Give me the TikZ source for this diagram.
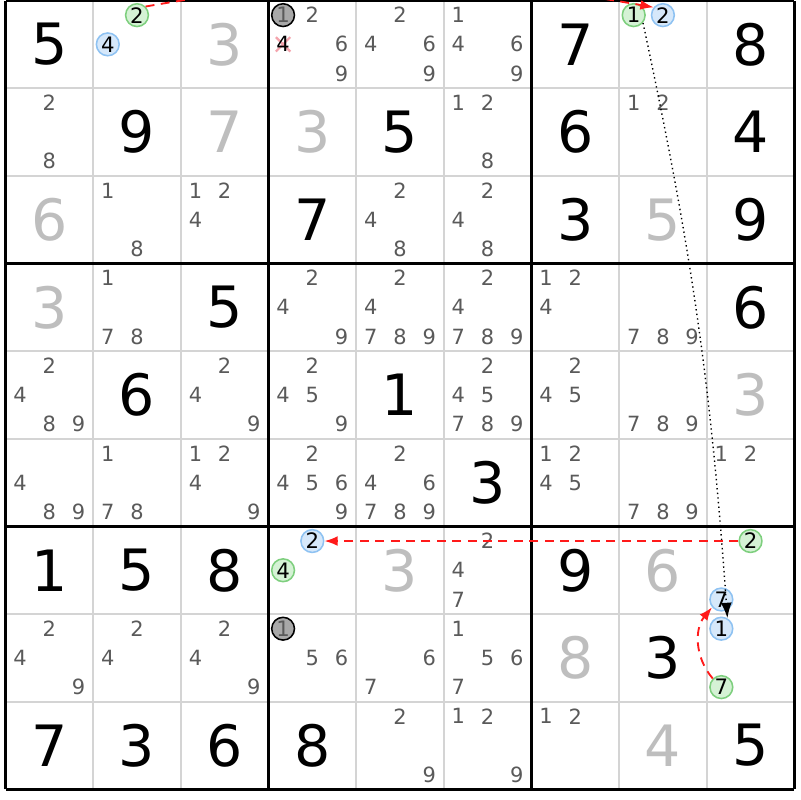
\documentclass[tikz,border=0pt]{standalone}
\usepackage{fontspec}
\setmainfont{DejaVu Sans}
\usetikzlibrary{arrows.meta,shapes.misc}
\definecolor{gridgray}{HTML}{D4D4D4}
\definecolor{candtext}{HTML}{5A5A5A}
\definecolor{solvedgray}{HTML}{BEBEBE}
\definecolor{greenfill}{HTML}{D5F2D5}
\definecolor{greenline}{HTML}{7ECF7E}
\definecolor{bluefill}{HTML}{D6E8FA}
\definecolor{blueline}{HTML}{8EC2F2}
\definecolor{grayfill}{HTML}{A8A8A8}
\definecolor{crosspink}{HTML}{F4A3AC}
\definecolor{chainred}{HTML}{FF1A1A}
\newcommand{\cand}[4][cand]{\node[#1] (r#2c#3n#4) at ({#3-1+(mod(#4-1,3)+0.5)/3},{10-#2-(int((#4-1)/3)+0.5)/3}) {#4};}

\begin{document}
\begin{tikzpicture}
\tikzstyle{given}=[inner sep=0pt,text=black,font=\fontsize{18.5}{18.5}\selectfont]
\tikzstyle{solved}=[inner sep=0pt,text=solvedgray,font=\fontsize{18.5}{18.5}\selectfont]
\tikzstyle{cand}=[inner sep=0pt,text=candtext,font=\fontsize{6.8}{6.8}\selectfont]
\tikzstyle{candout}=[cand,text=black]
\tikzstyle{candgreen}=[circle,draw=greenline,fill=greenfill,line width=0.5pt,minimum size=0.26cm,inner sep=0pt,text=black,font=\fontsize{6.9}{6.9}\selectfont]
\tikzstyle{candblue}=[candgreen,draw=blueline,fill=bluefill]
\tikzstyle{candgray}=[candgreen,draw=black,fill=grayfill,text=candtext]
\tikzstyle{crossmark}=[cross out,draw=crosspink,line width=0.7pt,minimum size=0.14cm,inner sep=0pt]
\tikzstyle{thingrid}=[gridgray,line width=0.5pt]
\tikzstyle{boxgrid}=[black,line width=1pt]
\tikzstyle{linkred}=[chainred,line width=0.6pt,dash pattern=on 2.9pt off 2.1pt,-{Latex[length=4.3pt,width=3.2pt]}]
\tikzstyle{linkdot}=[black,line width=0.45pt,dash pattern=on 0.45pt off 1.05pt,-{Latex[length=5pt,width=3.5pt]}]

\useasboundingbox (-0.063,-0.121) rectangle (9.064,9.006);
\fill[white] (-0.063,-0.121) rectangle (9.064,9.006);

%grid
\draw[thingrid] (0,0) grid (9,9);
\draw[boxgrid,step=3] (0,0) grid (9,9);

%given digits (black) and solved digits (gray)
\node[given] (r1c1) at (0.5,8.5) {5};
\node[solved] (r1c3) at (2.5,8.5) {3};
\node[given] (r1c7) at (6.5,8.5) {7};
\node[given] (r1c9) at (8.5,8.5) {8};
\node[given] (r2c2) at (1.5,7.5) {9};
\node[solved] (r2c3) at (2.5,7.5) {7};
\node[solved] (r2c4) at (3.5,7.5) {3};
\node[given] (r2c5) at (4.5,7.5) {5};
\node[given] (r2c7) at (6.5,7.5) {6};
\node[given] (r2c9) at (8.5,7.5) {4};
\node[solved] (r3c1) at (0.5,6.5) {6};
\node[given] (r3c4) at (3.5,6.5) {7};
\node[given] (r3c7) at (6.5,6.5) {3};
\node[solved] (r3c8) at (7.5,6.5) {5};
\node[given] (r3c9) at (8.5,6.5) {9};
\node[solved] (r4c1) at (0.5,5.5) {3};
\node[given] (r4c3) at (2.5,5.5) {5};
\node[given] (r4c9) at (8.5,5.5) {6};
\node[given] (r5c2) at (1.5,4.5) {6};
\node[given] (r5c5) at (4.5,4.5) {1};
\node[solved] (r5c9) at (8.5,4.5) {3};
\node[given] (r6c6) at (5.5,3.5) {3};
\node[given] (r7c1) at (0.5,2.5) {1};
\node[given] (r7c2) at (1.5,2.5) {5};
\node[given] (r7c3) at (2.5,2.5) {8};
\node[solved] (r7c5) at (4.5,2.5) {3};
\node[given] (r7c7) at (6.5,2.5) {9};
\node[solved] (r7c8) at (7.5,2.5) {6};
\node[solved] (r8c7) at (6.5,1.5) {8};
\node[given] (r8c8) at (7.5,1.5) {3};
\node[given] (r9c1) at (0.5,0.5) {7};
\node[given] (r9c2) at (1.5,0.5) {3};
\node[given] (r9c3) at (2.5,0.5) {6};
\node[given] (r9c4) at (3.5,0.5) {8};
\node[solved] (r9c8) at (7.5,0.5) {4};
\node[given] (r9c9) at (8.5,0.5) {5};

%candidates row 1
\cand[candgreen]{1}{2}{2} \cand[candblue]{1}{2}{4}
\cand[candgray]{1}{4}{1} \cand{1}{4}{2} \cand{1}{4}{6} \cand{1}{4}{9}
\node[crossmark] (r1c4x) at (3.167,8.5) {};
\cand[candout]{1}{4}{4}
\cand{1}{5}{2} \cand{1}{5}{4} \cand{1}{5}{6} \cand{1}{5}{9}
\cand{1}{6}{1} \cand{1}{6}{4} \cand{1}{6}{6} \cand{1}{6}{9}
\cand[candgreen]{1}{8}{1} \cand[candblue]{1}{8}{2}
%candidates row 2
\cand{2}{1}{2} \cand{2}{1}{8}
\cand{2}{6}{1} \cand{2}{6}{2} \cand{2}{6}{8}
\cand{2}{8}{1} \cand{2}{8}{2}
%candidates row 3
\cand{3}{2}{1} \cand{3}{2}{8}
\cand{3}{3}{1} \cand{3}{3}{2} \cand{3}{3}{4}
\cand{3}{5}{2} \cand{3}{5}{4} \cand{3}{5}{8}
\cand{3}{6}{2} \cand{3}{6}{4} \cand{3}{6}{8}
%candidates row 4
\cand{4}{2}{1} \cand{4}{2}{7} \cand{4}{2}{8}
\cand{4}{4}{2} \cand{4}{4}{4} \cand{4}{4}{9}
\cand{4}{5}{2} \cand{4}{5}{4} \cand{4}{5}{7} \cand{4}{5}{8} \cand{4}{5}{9}
\cand{4}{6}{2} \cand{4}{6}{4} \cand{4}{6}{7} \cand{4}{6}{8} \cand{4}{6}{9}
\cand{4}{7}{1} \cand{4}{7}{2} \cand{4}{7}{4}
\cand{4}{8}{7} \cand{4}{8}{8} \cand{4}{8}{9}
%candidates row 5
\cand{5}{1}{2} \cand{5}{1}{4} \cand{5}{1}{8} \cand{5}{1}{9}
\cand{5}{3}{2} \cand{5}{3}{4} \cand{5}{3}{9}
\cand{5}{4}{2} \cand{5}{4}{4} \cand{5}{4}{5} \cand{5}{4}{9}
\cand{5}{6}{2} \cand{5}{6}{4} \cand{5}{6}{5} \cand{5}{6}{7} \cand{5}{6}{8} \cand{5}{6}{9}
\cand{5}{7}{2} \cand{5}{7}{4} \cand{5}{7}{5}
\cand{5}{8}{7} \cand{5}{8}{8} \cand{5}{8}{9}
%candidates row 6
\cand{6}{1}{4} \cand{6}{1}{8} \cand{6}{1}{9}
\cand{6}{2}{1} \cand{6}{2}{7} \cand{6}{2}{8}
\cand{6}{3}{1} \cand{6}{3}{2} \cand{6}{3}{4} \cand{6}{3}{9}
\cand{6}{4}{2} \cand{6}{4}{4} \cand{6}{4}{5} \cand{6}{4}{6} \cand{6}{4}{9}
\cand{6}{5}{2} \cand{6}{5}{4} \cand{6}{5}{6} \cand{6}{5}{7} \cand{6}{5}{8} \cand{6}{5}{9}
\cand{6}{7}{1} \cand{6}{7}{2} \cand{6}{7}{4} \cand{6}{7}{5}
\cand{6}{8}{7} \cand{6}{8}{8} \cand{6}{8}{9}
\cand{6}{9}{1} \cand{6}{9}{2}
%candidates row 7
\cand[candblue]{7}{4}{2} \cand[candgreen]{7}{4}{4}
\cand{7}{6}{2} \cand{7}{6}{4} \cand{7}{6}{7}
\cand[candgreen]{7}{9}{2} \cand[candblue]{7}{9}{7}
%candidates row 8
\cand{8}{1}{2} \cand{8}{1}{4} \cand{8}{1}{9}
\cand{8}{2}{2} \cand{8}{2}{4}
\cand{8}{3}{2} \cand{8}{3}{4} \cand{8}{3}{9}
\cand[candgray]{8}{4}{1} \cand{8}{4}{5} \cand{8}{4}{6}
\cand{8}{5}{6} \cand{8}{5}{7}
\cand{8}{6}{1} \cand{8}{6}{5} \cand{8}{6}{6} \cand{8}{6}{7}
\cand[candblue]{8}{9}{1} \cand[candgreen]{8}{9}{7}
%candidates row 9
\cand{9}{5}{2} \cand{9}{5}{9}
\cand{9}{6}{1} \cand{9}{6}{2} \cand{9}{6}{9}
\cand{9}{7}{1} \cand{9}{7}{2}

%chain links
\draw[linkred] (r1c2n2.45) to[bend left=10] (r1c8n2.140);
\draw[linkdot] (r1c8n1.-40) to[bend left=4] (r8c9n1.60);
\draw[linkred] (r7c9n2.west) -- (r7c4n2.east);
\draw[linkred] (r8c9n7.135) to[bend left=40] (r7c9n7.220);
\end{tikzpicture}
\end{document}
